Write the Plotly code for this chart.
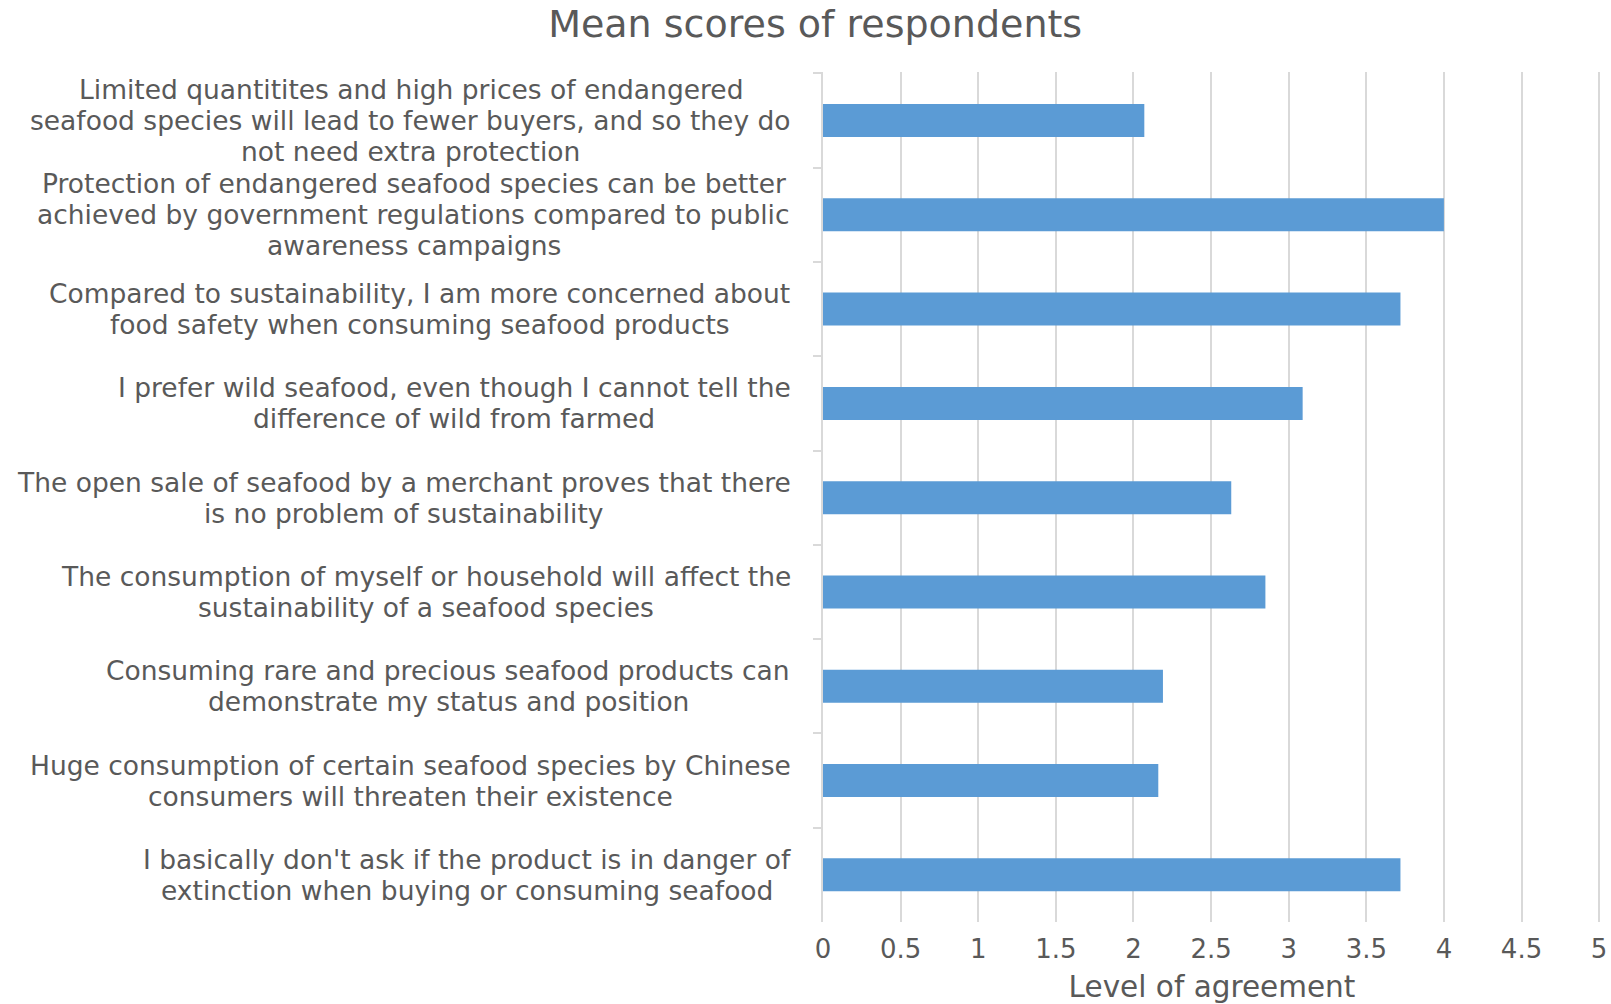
import plotly.graph_objects as go

# Survey statements (top to bottom), one list of wrapped lines per statement
statement_lines = [
    ["Limited quantitites and high prices of endangered",
     "seafood species will lead to fewer buyers, and so they do",
     "not need extra protection"],
    ["Protection of endangered seafood species can be better",
     "achieved by government regulations compared to public",
     "awareness campaigns"],
    ["Compared to sustainability, I am more concerned about",
     "food safety when consuming seafood products"],
    ["I prefer wild seafood, even though I cannot tell the",
     "difference of wild from farmed"],
    ["The open sale of seafood by a merchant proves that there",
     "is no problem of sustainability"],
    ["The consumption of myself or household will affect the",
     "sustainability of a seafood species"],
    ["Consuming rare and precious seafood products can",
     "demonstrate my status and position"],
    ["Huge consumption of certain seafood species by Chinese",
     "consumers will threaten their existence"],
    ["I basically don't ask if the product is in danger of",
     "extinction when buying or consuming seafood"],
]
mean_scores = [2.07, 4.0, 3.72, 3.09, 2.63, 2.85, 2.19, 2.16, 3.72]

x_ticks = [0, 0.5, 1, 1.5, 2, 2.5, 3, 3.5, 4, 4.5, 5]
x_tick_labels = ["0", "0.5", "1", "1.5", "2", "2.5", "3", "3.5", "4", "4.5", "5"]

statements = [" ".join(lines) for lines in statement_lines]

TEXT = "#595959"
FONT = "DejaVu Sans"
LABEL_SIZE = 26.5
LINE_STEP = 31      # px between label lines
LABEL_GAP = 32      # px between label block and the axis

# DejaVu Sans advance widths (font units, 2048 per em) used to size label blocks
_ADV = {
    " ": 651, ",": 651, ".": 651, "'": 563,
    "a": 1255, "b": 1300, "c": 1126, "d": 1300, "e": 1260, "f": 721,
    "g": 1300, "h": 1298, "i": 569, "j": 569, "k": 1186, "l": 569,
    "m": 1995, "n": 1298, "o": 1253, "p": 1300, "q": 1300, "r": 842,
    "s": 1067, "t": 803, "u": 1298, "v": 1212, "w": 1675, "x": 1212,
    "y": 1212, "z": 1075,
    "C": 1430, "H": 1540, "I": 604, "L": 1141, "P": 1257, "T": 1251,
}


def text_width(s, size):
    return sum(_ADV.get(ch, 1260) for ch in s) / 2048 * size


fig = go.Figure(
    go.Bar(
        x=mean_scores,
        y=statements,
        orientation="h",
        marker=dict(color="#5B9BD5", line=dict(width=0)),
        hoverinfo="x",
    )
)

# Statement labels: lines centred on each other, block right-aligned to the axis
for s, lines in zip(statements, statement_lines):
    n = len(lines)
    block_w = max(text_width(line, LABEL_SIZE) for line in lines)
    for i, line in enumerate(lines):
        fig.add_annotation(
            x=0, xref="paper", xanchor="center",
            xshift=-(LABEL_GAP + block_w / 2),
            y=s, yref="y", yanchor="middle",
            yshift=-(i - (n - 1) / 2) * LINE_STEP,
            text=line, align="center", showarrow=False,
            font=dict(family=FONT, size=LABEL_SIZE, color=TEXT),
        )

fig.update_layout(
    width=1611, height=1004,
    margin=dict(l=823, r=10, t=72, b=82),
    paper_bgcolor="white", plot_bgcolor="white",
    bargap=0.65,
    showlegend=False,
    title=dict(
        text="Mean scores of respondents",
        x=0.506, xanchor="center", y=0.976, yanchor="middle",
        font=dict(family=FONT, size=38, color=TEXT),
    ),
    font=dict(family=FONT, color=TEXT),
)

# Range ends a hair past 5 so the last gridline is kept inside the plot area
fig.update_xaxes(
    range=[0, 5.012], tickvals=x_ticks, ticktext=x_tick_labels,
    automargin=False,
    showgrid=True, gridcolor="#D9D9D9", gridwidth=1.5,
    zeroline=False, showline=False, ticks="",
    tickfont=dict(family=FONT, size=26, color=TEXT),
    ticklabelstandoff=9,
    title=dict(text="Level of agreement", standoff=19,
               font=dict(family=FONT, size=29.5, color=TEXT)),
)
fig.update_yaxes(
    autorange="reversed", showticklabels=False, automargin=False,
    showline=True, linecolor="#D9D9D9", linewidth=1.5,
    ticks="outside", tickson="boundaries", ticklen=8,
    tickcolor="#D9D9D9", tickwidth=1.5,
    showgrid=False, zeroline=False,
)

fig.write_html("out.html")
